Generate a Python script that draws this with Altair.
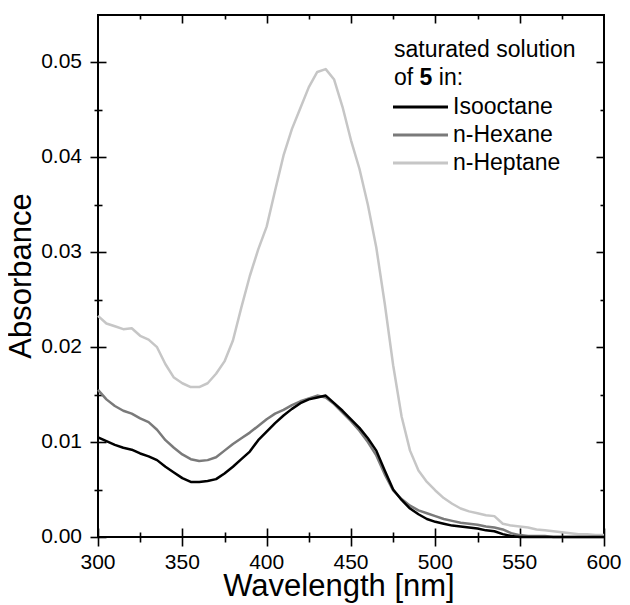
import altair as alt
import pandas as pd

wavelength = list(range(300, 605, 5))

isooctane = [0.0105, 0.0101, 0.0097, 0.0094, 0.0092, 0.0088, 0.0085, 0.0081, 0.0074, 0.0068,
             0.0062, 0.0058, 0.0058, 0.0059, 0.0061, 0.0067, 0.0074, 0.0082, 0.0090, 0.0102,
             0.0111, 0.0120, 0.0128, 0.0135, 0.0141, 0.0145, 0.0147, 0.0149, 0.0141, 0.0133,
             0.0124, 0.0115, 0.0104, 0.0091, 0.0070, 0.0050, 0.0039, 0.0030, 0.0024, 0.0019,
             0.0016, 0.0014, 0.0012, 0.0011, 0.0010, 0.0009, 0.0007, 0.0006, 0.0003, 0.0001,
             0.0000, 0.0000, 0.0000, 0.0000, 0.0000, 0.0000, 0.0000, 0.0000, 0.0000, 0.0000,
             0.0000]

hexane = [0.0155, 0.0145, 0.0138, 0.0133, 0.0130, 0.0125, 0.0121, 0.0113, 0.0102, 0.0094,
          0.0087, 0.0082, 0.0080, 0.0081, 0.0084, 0.0091, 0.0098, 0.0104, 0.0110, 0.0117,
          0.0124, 0.0130, 0.0134, 0.0139, 0.0143, 0.0146, 0.0149, 0.0147, 0.0140, 0.0131,
          0.0122, 0.0112, 0.0100, 0.0086, 0.0066, 0.0049, 0.0040, 0.0033, 0.0028, 0.0025,
          0.0022, 0.0019, 0.0017, 0.0015, 0.0014, 0.0013, 0.0011, 0.0010, 0.0008, 0.0004,
          0.0002, 0.0001, 0.0001, 0.0001, 0.0000, 0.0000, 0.0000, 0.0000, 0.0000, 0.0000,
          0.0000]

heptane = [0.0233, 0.0225, 0.0222, 0.0219, 0.0220, 0.0212, 0.0208, 0.0200, 0.0182, 0.0168,
           0.0162, 0.0158, 0.0158, 0.0162, 0.0172, 0.0185, 0.0207, 0.0242, 0.0275, 0.0303,
           0.0327, 0.0365, 0.0402, 0.0430, 0.0452, 0.0474, 0.0490, 0.0493, 0.0482, 0.0453,
           0.0418, 0.0388, 0.0350, 0.0305, 0.0246, 0.0181, 0.0127, 0.0091, 0.0070, 0.0058,
           0.0049, 0.0041, 0.0035, 0.0030, 0.0027, 0.0025, 0.0023, 0.0022, 0.0014, 0.0012,
           0.0011, 0.0010, 0.0008, 0.0007, 0.0006, 0.0005, 0.0004, 0.0003, 0.0003, 0.0002,
           0.0002]

series_names = ["Isooctane", "n-Hexane", "n-Heptane"]
series_colors = ["#000000", "#7a7a7a", "#c6c6c6"]

x_major = [300, 350, 400, 450, 500, 550, 600]
x_labels = ["300", "350", "400", "450", "500", "550", "600"]
x_minor = [325, 375, 425, 475, 525, 575]
y_major = [0.00, 0.01, 0.02, 0.03, 0.04, 0.05]
y_labels = ["0.00", "0.01", "0.02", "0.03", "0.04", "0.05"]
y_minor = [0.005, 0.015, 0.025, 0.035, 0.045]

x_title = "Wavelength [nm]"
y_title = "Absorbance"

W, H = 506, 522
FONT = "Liberation Sans"
X_MIN, X_MAX = 300, 600
Y_MIN, Y_MAX = 0, 0.055

xscale = alt.Scale(domain=[X_MIN, X_MAX], nice=False, zero=False, padding=0)
yscale = alt.Scale(domain=[Y_MIN, Y_MAX], nice=False, zero=False, padding=0)


def tick_axis(orient, values, offset, size):
    # an axis used only for its ticks: pulled inward by `offset`, ticks pointing outward
    return alt.Axis(orient=orient, values=values, offset=offset, tickSize=size, tickWidth=1.6,
                    tickColor="black", ticks=True, labels=False, domain=False, grid=False,
                    title=None)


axis_pairs = [
    (tick_axis("bottom", x_major, -9, 18), tick_axis("left", y_major, -8, 16)),
    (tick_axis("bottom", x_minor, -5, 10), tick_axis("left", y_minor, -4, 8)),
    (tick_axis("top", x_major[1:-1], -8, 8), tick_axis("right", y_major[1:], -8, 8)),
    (tick_axis("top", x_minor, -4, 4), tick_axis("right", y_minor, -4, 4)),
]

vals = {"Isooctane": isooctane, "n-Hexane": hexane, "n-Heptane": heptane}
layers = []
# light first, black on top; each layer carries one pair of tick axes
order = list(zip(series_names[::-1], series_colors[::-1]))
for k in range(4):
    if k < 3:
        name, color = order[k]
        opacity = 1
    else:
        name, color = order[2]
        opacity = 0
    df = pd.DataFrame({"wl": wavelength, "abs": vals[name]})
    ax_x, ax_y = axis_pairs[k]
    layers.append(
        alt.Chart(df).mark_line(color=color, strokeWidth=2.5, strokeJoin="round",
                                opacity=opacity).encode(
            x=alt.X("wl:Q", scale=xscale, axis=ax_x),
            y=alt.Y("abs:Q", scale=yscale, axis=ax_y),
        )
    )

# tick labels, placed through the scales
layers.append(
    alt.Chart(pd.DataFrame({"xl": x_major, "xt": x_labels})).mark_text(
        align="center", baseline="alphabetic", font=FONT, fontSize=21, color="black").encode(
        x=alt.X("xl:Q", scale=xscale, axis=None), y=alt.value(H + 32), text="xt:N")
)
layers.append(
    alt.Chart(pd.DataFrame({"yl": y_major, "yt": y_labels})).mark_text(
        align="right", baseline="middle", font=FONT, fontSize=21, color="black").encode(
        y=alt.Y("yl:Q", scale=yscale, axis=None), x=alt.value(-16), text="yt:N")
)
# axis titles
layers.append(
    alt.Chart(pd.DataFrame({"tx": [x_title]})).mark_text(
        align="center", baseline="alphabetic", font=FONT, fontSize=31, color="black").encode(
        x=alt.value(241), y=alt.value(H + 59), text="tx:N")
)
layers.append(
    alt.Chart(pd.DataFrame({"ty": [y_title]})).mark_text(
        align="center", baseline="middle", angle=270, font=FONT, fontSize=31,
        color="black").encode(x=alt.value(-76), y=alt.value(261), text="ty:N")
)


def txt(text, x, y, weight="normal"):
    return alt.Chart(pd.DataFrame({"lg": [text]})).mark_text(
        align="left", baseline="alphabetic", font=FONT, fontSize=23, fontWeight=weight,
        color="black").encode(text="lg:N", x=alt.value(x), y=alt.value(y))


layers += [
    txt("saturated solution", 296, 42),
    txt("of", 296, 70),
    txt("5", 321.6, 70, "bold"),
    txt("in:", 340.8, 70),
]
for i, (name, color) in enumerate(zip(series_names, series_colors)):
    yb = 99 + i * 28
    layers.append(
        alt.Chart(pd.DataFrame({"n": [name]})).mark_rule(color=color, strokeWidth=3).encode(
            x=alt.value(295), x2=alt.value(350), y=alt.value(yb - 7))
    )
    layers.append(txt(name, 355, yb))

chart = alt.layer(*layers).resolve_axis(
    x="independent", y="independent"
).properties(
    width=W, height=H,
    autosize=alt.AutoSizeParams(type="none"),
    padding={"left": 90, "top": 7, "right": 18, "bottom": 66},
).configure_view(stroke="black", strokeWidth=2)

chart.save("out.html", embed_options={"renderer": "svg", "actions": False})
